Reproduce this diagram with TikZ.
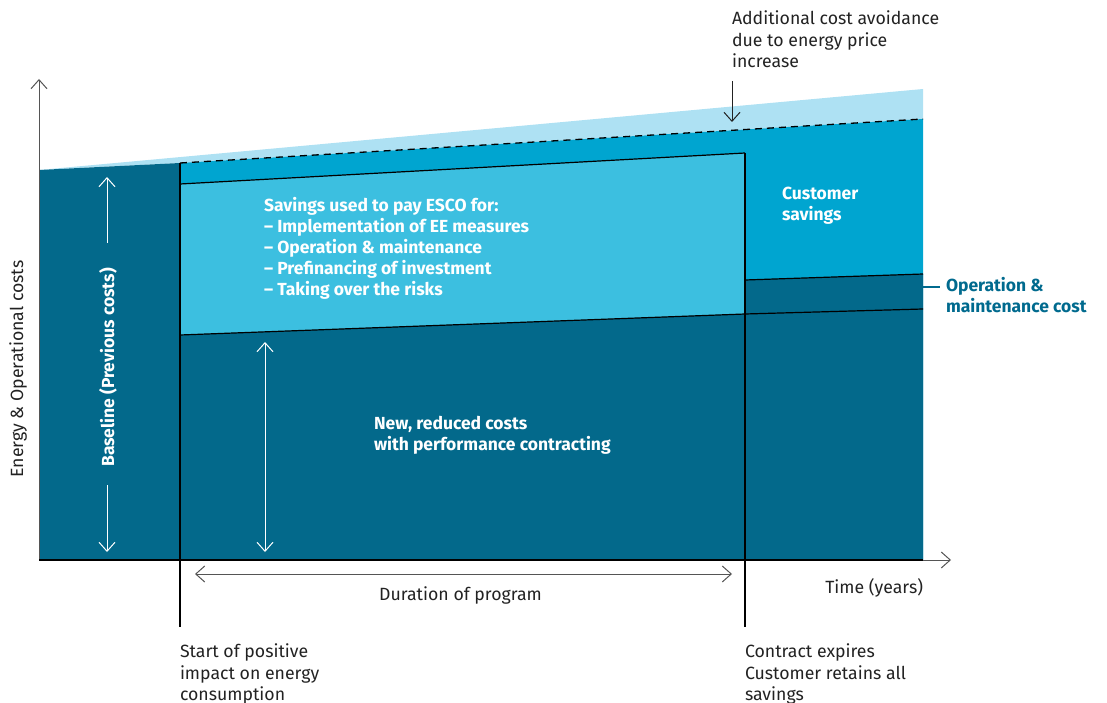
\documentclass[tikz,border=0pt]{standalone}
\usepackage{fontspec}
\setmainfont{Fira Sans}
\usetikzlibrary{arrows.meta}
\definecolor{darkteal}{HTML}{03698B}
\definecolor{midblue}{HTML}{00A5D0}
\definecolor{boxblue}{HTML}{3CBFE0}
\definecolor{paleblue}{HTML}{AEE1F3}
\definecolor{txtgrey}{HTML}{222222}
\definecolor{omteal}{HTML}{006A8E}
\definecolor{axisgrey}{HTML}{555555}
\tikzset{
  lbl/.style={inner sep=0pt, outer sep=0pt, text=txtgrey, font=\fontsize{17.7}{21.2}\selectfont, align=left},
  wlbl/.style={inner sep=0pt, outer sep=0pt, text=white, font=\bfseries\fontsize{17.5}{21.2}\selectfont, align=left},
  edgeline/.style={draw=black, line width=1.2pt},
  barb/.style={-{Straight Barb[length=9pt,width=16pt,line width=1pt]}},
  dbarb/.style={{Straight Barb[length=9pt,width=16pt,line width=1pt]}-{Straight Barb[length=9pt,width=16pt,line width=1pt]}},
}
\begin{document}
\begin{tikzpicture}[x=1pt,y=-1pt]
\useasboundingbox (0,0) rectangle (1107,703);
% key points
\coordinate (O) at (39,560);
\coordinate (bl) at (39,170);
\coordinate (s0) at (180,163);
\coordinate (pt) at (923,89);
\coordinate (d1) at (923,119);
\coordinate (br) at (923,560);
\coordinate (s1) at (180,560);
\coordinate (bxtl) at (180,184);
\coordinate (bxtr) at (745,153);
\coordinate (bxbr) at (745,314);
\coordinate (bxbl) at (180,335);
\coordinate (omtl) at (745,280);
\coordinate (omtr) at (923,274);
\coordinate (ombr) at (923,309);
\coordinate (e0) at (180,627);
\coordinate (e1top) at (745,153);
\coordinate (e1) at (745,627);
% fills
\fill[paleblue] (bl) -- (pt) -- (d1) -- (s0) -- cycle;
\fill[midblue] (s0) -- (d1) -- (br) -- (s1) -- cycle;
\fill[darkteal] (bl) -- (s0) -- (s1) -- (O) -- cycle;
\fill[boxblue] (bxtl) -- (bxtr) -- (bxbr) -- (bxbl) -- cycle;
\fill[darkteal] (bxbl) -- (bxbr) -- (omtl) -- (omtr) -- (br) -- (s1) -- cycle;
% lines
\draw[black, line width=1.3pt, dash pattern=on 7pt off 5pt] (s0) -- (d1);
\draw[edgeline] (bxtl) -- (bxtr);
\draw[edgeline] (bxbl) -- (bxbr) -- (ombr);
\draw[edgeline] (omtl) -- (omtr);
\draw[black, line width=1.5pt] (s0) -- (e0);
\draw[black, line width=1.5pt] (e1top) -- (e1);
% axes
\coordinate (ytip) at (39,79);
\coordinate (xtip) at (951,560);
\draw[axisgrey, line width=1pt, barb] (O) -- (ytip);
\draw[axisgrey, line width=1pt, barb] (O) -- (xtip);
\draw[black, line width=1.2pt] (O) -- (br);
% white arrows
\coordinate (a1s) at (107,243); \coordinate (a1e) at (107,177);
\coordinate (a2s) at (107,485); \coordinate (a2e) at (107,552);
\coordinate (a3s) at (265,342); \coordinate (a3e) at (265,552);
\draw[white, line width=1pt, barb] (a1s) -- (a1e);
\draw[white, line width=1pt, barb] (a2s) -- (a2e);
\draw[white, line width=1pt, dbarb] (a3s) -- (a3e);
% duration arrow
\coordinate (du0) at (195,574); \coordinate (du1) at (732,574);
\draw[axisgrey, line width=1pt, dbarb] (du0) -- (du1);
% additional arrow
\coordinate (ad0) at (732,81); \coordinate (ad1) at (732,122);
\draw[txtgrey, line width=1pt, barb] (ad0) -- (ad1);
% texts
\node[lbl, anchor=north west] (addl) at (732,11) {Additional cost avoidance\\due to energy price\\increase};
\node[wlbl, anchor=north west] (cust) at (782,187) {Customer\\savings};
\node[lbl, text=omteal, font=\bfseries\fontsize{17.5}{21}\selectfont, anchor=north west] (om) at (946,277) {Operation \&\\maintenance cost};
\coordinate (omc) at (923,287);
\draw[omteal, line width=1.5pt] (omc) -- ([xshift=-6pt]om.west |- omc);
\node[wlbl, anchor=north west] (esco) at (264,197) {Savings used to pay ESCO for:\\– Implementation of EE measures\\– Operation \& maintenance\\– Prefinancing of investment\\– Taking over the risks};
\node[wlbl, anchor=north west] (newc) at (374,416) {New, reduced costs\\with performance contracting};
\node[lbl, anchor=base] (dur) at (460.5,600.5) {Duration of program};
\node[lbl, anchor=base east] (time) at (923,593) {Time (years)};
\node[lbl, anchor=north west] (start) at (180,644) {Start of positive\\impact on energy\\consumption};
\node[lbl, anchor=north west] (contr) at (745,644) {Contract expires\\Customer retains all\\savings};
\node[lbl, rotate=90, anchor=base] (ylab) at (23,369) {Energy \& Operational costs};
\node[wlbl, rotate=90, anchor=base] (basel) at (114,367.5) {Baseline (Previous costs)};
\end{tikzpicture}
\end{document}
